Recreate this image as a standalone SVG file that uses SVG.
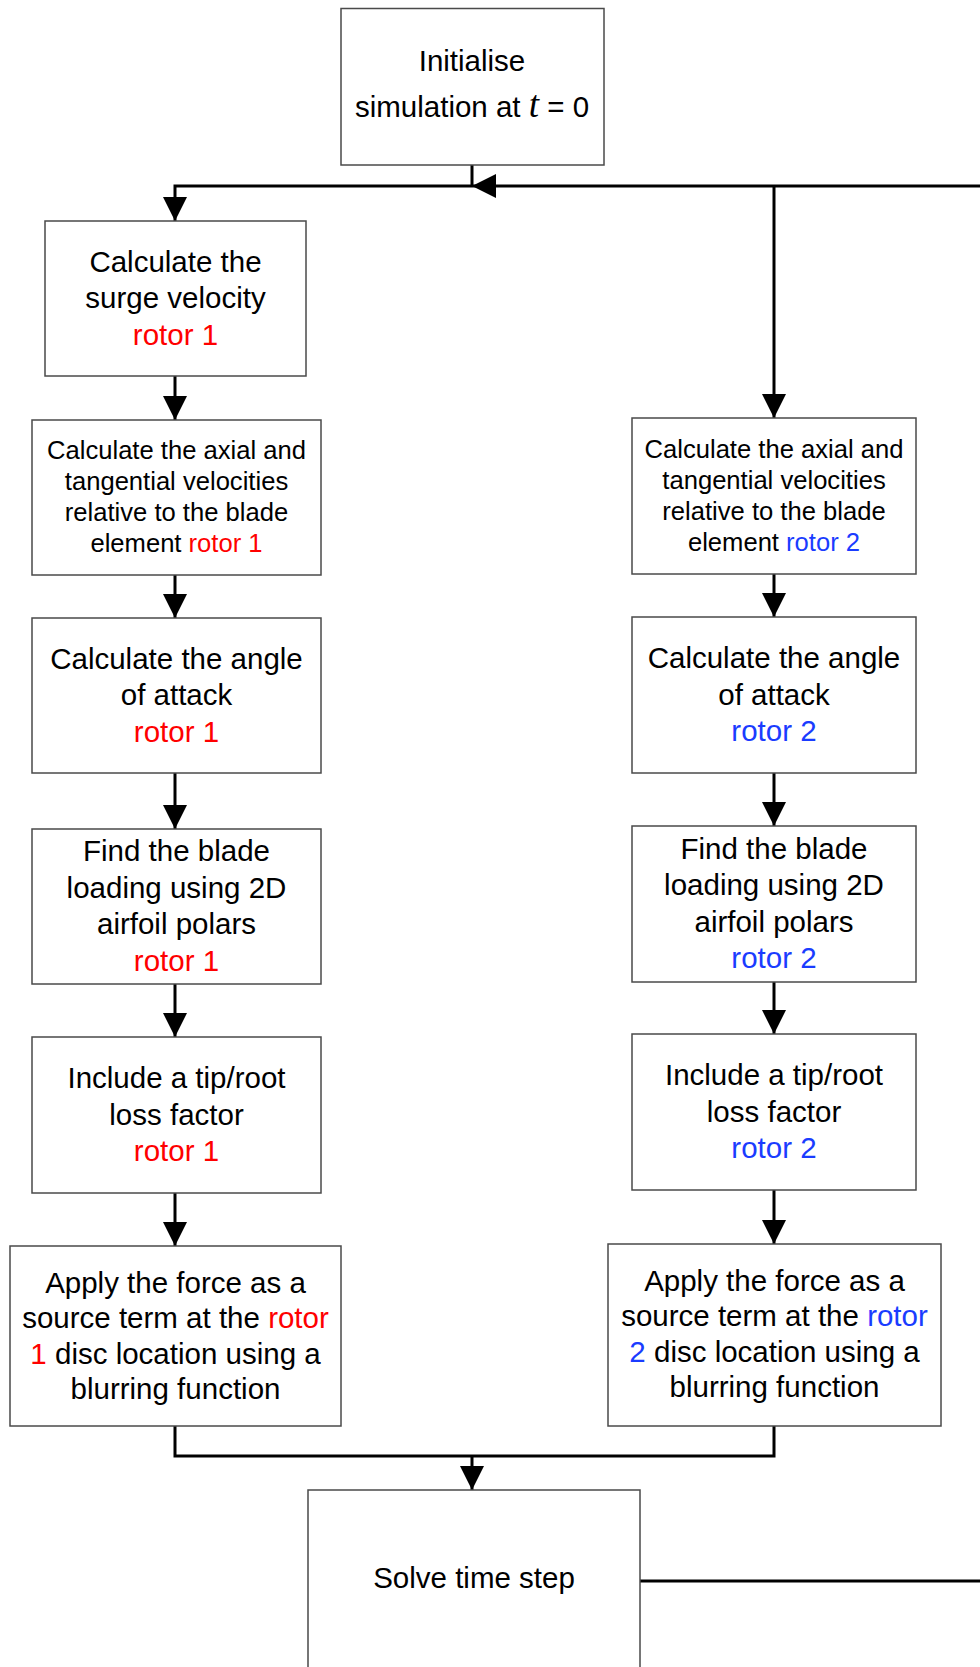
<svg xmlns="http://www.w3.org/2000/svg" width="980" height="1667" viewBox="0 0 980 1667">
<defs>
<style>
.box{fill:#fff;stroke:#4a4a4a;stroke-width:1.5}
.conn{fill:none;stroke:#000;stroke-width:3}
.t{font-family:"Liberation Sans",Arial,sans-serif;fill:#000;text-anchor:middle}
.L{font-size:29.5px}
.A{font-size:29.5px}
.S{font-size:25.6px}
.r1{fill:#ff0000}
.r2{fill:#1a3cff}
.it{font-family:"Liberation Serif","Times New Roman",serif;font-style:italic;font-size:37px}
</style>
<marker id="ah" markerUnits="userSpaceOnUse" markerWidth="24" markerHeight="24" viewBox="0 0 24 24" refX="24" refY="12" orient="auto">
<path d="M0,0 L24,12 L0,24 Z" fill="#000"/>
</marker>
</defs>
<rect width="980" height="1667" fill="#fff"/>

<g id="connectors">
<path class="conn" d="M472,165 V186"/>
<path class="conn" d="M980,186 H472" marker-end="url(#ah)"/>
<path class="conn" d="M472,186 H175 V221" marker-end="url(#ah)"/>
<path class="conn" d="M774,186 V418" marker-end="url(#ah)"/>
<path class="conn" d="M175,376 V420" marker-end="url(#ah)"/>
<path class="conn" d="M175,575 V618" marker-end="url(#ah)"/>
<path class="conn" d="M175,773 V829" marker-end="url(#ah)"/>
<path class="conn" d="M175,984 V1037" marker-end="url(#ah)"/>
<path class="conn" d="M175,1193 V1246" marker-end="url(#ah)"/>
<path class="conn" d="M774,574 V617" marker-end="url(#ah)"/>
<path class="conn" d="M774,773 V826" marker-end="url(#ah)"/>
<path class="conn" d="M774,982 V1034" marker-end="url(#ah)"/>
<path class="conn" d="M774,1190 V1244" marker-end="url(#ah)"/>
<path class="conn" d="M175,1426 V1456 H774 V1426"/>
<path class="conn" d="M472,1456 V1490" marker-end="url(#ah)"/>
<path class="conn" d="M640,1581 H980"/>
</g>

<g id="init">
<rect class="box" x="341" y="8.5" width="263" height="156.5"/>
<text class="t L" x="472" y="71">Initialise</text>
<text class="t L" x="472" y="117">simulation at <tspan class="it">t</tspan> = 0</text>
</g>

<g id="l1">
<rect class="box" x="45" y="221" width="261" height="155"/>
<text class="t L" x="175.5" y="271.5">Calculate the</text>
<text class="t L" x="175.5" y="308">surge velocity</text>
<text class="t L r1" x="175.5" y="344.5">rotor 1</text>
</g>

<g id="l2">
<rect class="box" x="32" y="420" width="289" height="155"/>
<text class="t S" x="176.5" y="459">Calculate the axial and</text>
<text class="t S" x="176.5" y="490">tangential velocities</text>
<text class="t S" x="176.5" y="521">relative to the blade</text>
<text class="t S" x="176.5" y="552">element <tspan class="r1">rotor 1</tspan></text>
</g>

<g id="l3">
<rect class="box" x="32" y="618" width="289" height="155"/>
<text class="t L" x="176.5" y="668.5">Calculate the angle</text>
<text class="t L" x="176.5" y="705">of attack</text>
<text class="t L r1" x="176.5" y="741.5">rotor 1</text>
</g>

<g id="l4">
<rect class="box" x="32" y="829" width="289" height="155"/>
<text class="t L" x="176.5" y="861.3">Find the blade</text>
<text class="t L" x="176.5" y="897.8">loading using 2D</text>
<text class="t L" x="176.5" y="934.3">airfoil polars</text>
<text class="t L r1" x="176.5" y="970.8">rotor 1</text>
</g>

<g id="l5">
<rect class="box" x="32" y="1037" width="289" height="156"/>
<text class="t L" x="176.5" y="1088">Include a tip/root</text>
<text class="t L" x="176.5" y="1124.5">loss factor</text>
<text class="t L r1" x="176.5" y="1161">rotor 1</text>
</g>

<g id="l6">
<rect class="box" x="10" y="1246" width="331" height="180"/>
<text class="t A" x="175.5" y="1292.5">Apply the force as a</text>
<text class="t A" x="175.5" y="1328">source term at the <tspan class="r1">rotor</tspan></text>
<text class="t A" x="175.5" y="1363.5"><tspan class="r1">1</tspan> disc location using a</text>
<text class="t A" x="175.5" y="1399">blurring function</text>
</g>

<g id="r2">
<rect class="box" x="632" y="418" width="284" height="156"/>
<text class="t S" x="774" y="457.5">Calculate the axial and</text>
<text class="t S" x="774" y="488.5">tangential velocities</text>
<text class="t S" x="774" y="519.5">relative to the blade</text>
<text class="t S" x="774" y="550.5">element <tspan class="r2">rotor 2</tspan></text>
</g>

<g id="r3">
<rect class="box" x="632" y="617" width="284" height="156"/>
<text class="t L" x="774" y="668">Calculate the angle</text>
<text class="t L" x="774" y="704.5">of attack</text>
<text class="t L r2" x="774" y="741">rotor 2</text>
</g>

<g id="r4">
<rect class="box" x="632" y="826" width="284" height="156"/>
<text class="t L" x="774" y="858.8">Find the blade</text>
<text class="t L" x="774" y="895.3">loading using 2D</text>
<text class="t L" x="774" y="931.8">airfoil polars</text>
<text class="t L r2" x="774" y="968.3">rotor 2</text>
</g>

<g id="r5">
<rect class="box" x="632" y="1034" width="284" height="156"/>
<text class="t L" x="774" y="1085">Include a tip/root</text>
<text class="t L" x="774" y="1121.5">loss factor</text>
<text class="t L r2" x="774" y="1158">rotor 2</text>
</g>

<g id="r6">
<rect class="box" x="608" y="1244" width="333" height="182"/>
<text class="t A" x="774.5" y="1290.5">Apply the force as a</text>
<text class="t A" x="774.5" y="1326">source term at the <tspan class="r2">rotor</tspan></text>
<text class="t A" x="774.5" y="1361.5"><tspan class="r2">2</tspan> disc location using a</text>
<text class="t A" x="774.5" y="1397">blurring function</text>
</g>

<g id="solve">
<rect class="box" x="308" y="1490" width="332" height="200"/>
<text class="t A" x="474" y="1588">Solve time step</text>
</g>
</svg>
